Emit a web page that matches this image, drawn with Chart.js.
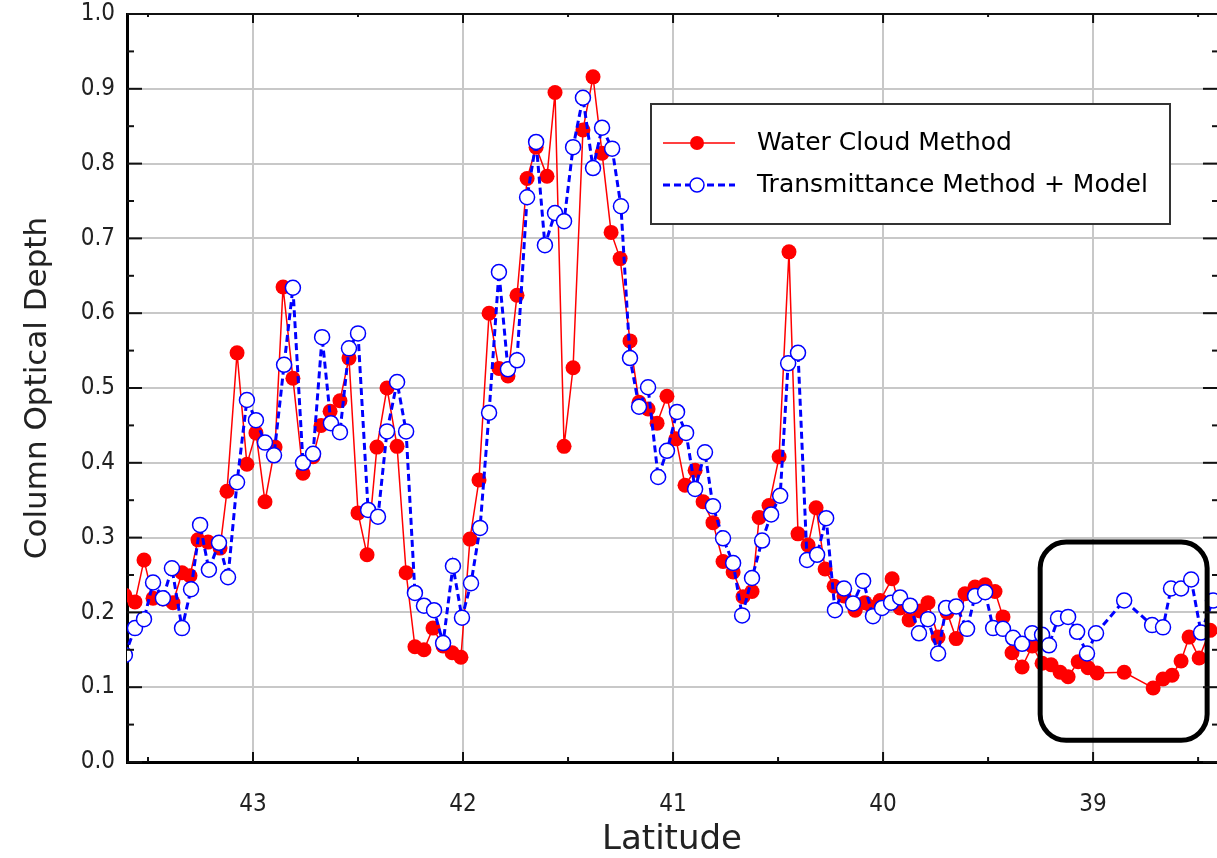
<!DOCTYPE html>
<html><head><meta charset="utf-8">
<script src="https://cdn.jsdelivr.net/npm/chart.js@4.4.0/dist/chart.umd.min.js"></script>
<style>html,body{margin:0;padding:0;background:#fff;}#wrap{width:1217px;height:858px;}</style>
</head><body><div id="wrap"><canvas id="c" width="1217" height="858"></canvas></div>
<script>
// ---------------- DATA ----------------
const seriesNames = ['Water Cloud Method', 'Transmittance Method + Model'];

const waterLat = [
 43.610,43.562,43.519,43.476,43.429,43.381,43.338,43.300,43.262,43.214,
 43.157,43.124,43.076,43.029,42.986,42.943,42.895,42.857,42.810,42.762,
 42.714,42.676,42.633,42.586,42.543,42.500,42.457,42.410,42.362,42.314,
 42.271,42.229,42.186,42.143,42.095,42.052,42.010,41.967,41.924,41.876,
 41.829,41.786,41.743,41.695,41.652,41.600,41.562,41.519,41.476,41.429,
 41.381,41.338,41.295,41.252,41.205,41.162,41.119,41.076,41.029,40.986,
 40.943,40.895,40.857,40.810,40.762,40.714,40.667,40.624,40.590,40.543,
 40.495,40.448,40.405,40.357,40.319,40.276,40.233,40.186,40.133,40.086,
 40.052,40.014,39.957,39.919,39.876,39.824,39.786,39.738,39.695,39.652,
 39.610,39.562,39.514,39.467,39.429,39.386,39.338,39.290,39.243,39.200,
 39.157,39.119,39.071,39.024,38.981,38.852,38.714,38.667,38.624,38.581,
 38.543,38.495,38.443];
const waterDepth = [
 0.223,0.214,0.270,0.219,0.218,0.213,0.253,0.249,0.297,0.294,
 0.286,0.362,0.547,0.398,0.440,0.348,0.421,0.635,0.513,0.386,
 0.408,0.450,0.469,0.483,0.540,0.333,0.277,0.421,0.500,0.422,
 0.253,0.154,0.150,0.179,0.155,0.146,0.140,0.298,0.377,0.600,
 0.526,0.516,0.624,0.780,0.822,0.783,0.895,0.422,0.527,0.845,
 0.916,0.814,0.708,0.673,0.563,0.481,0.472,0.453,0.489,0.432,
 0.370,0.390,0.348,0.320,0.268,0.254,0.221,0.228,0.327,0.343,
 0.408,0.682,0.305,0.290,0.340,0.258,0.235,0.222,0.203,0.213,
 0.207,0.216,0.245,0.206,0.190,0.202,0.213,0.167,0.200,0.165,
 0.225,0.234,0.237,0.228,0.194,0.146,0.127,0.155,0.132,0.130,
 0.120,0.114,0.134,0.126,0.119,0.120,0.099,0.111,0.116,0.135,
 0.167,0.139,0.176];

const transLat = [
 43.610,43.562,43.519,43.476,43.429,43.386,43.338,43.295,43.252,43.210,
 43.162,43.119,43.076,43.029,42.986,42.943,42.900,42.852,42.810,42.762,
 42.714,42.671,42.629,42.586,42.543,42.500,42.452,42.405,42.362,42.314,
 42.271,42.229,42.186,42.138,42.095,42.048,42.005,41.962,41.919,41.876,
 41.829,41.786,41.743,41.695,41.652,41.610,41.562,41.519,41.476,41.429,
 41.381,41.338,41.290,41.248,41.205,41.162,41.119,41.071,41.029,40.981,
 40.938,40.895,40.848,40.810,40.762,40.714,40.671,40.624,40.576,40.533,
 40.490,40.452,40.405,40.362,40.314,40.271,40.229,40.186,40.143,40.095,
 40.048,40.005,39.962,39.919,39.871,39.829,39.786,39.738,39.700,39.652,
 39.600,39.562,39.514,39.476,39.429,39.381,39.338,39.290,39.243,39.210,
 39.167,39.119,39.076,39.029,38.986,38.852,38.719,38.667,38.629,38.581,
 38.533,38.486,38.429];
const transDepth = [
 0.143,0.179,0.191,0.240,0.219,0.259,0.179,0.231,0.317,0.257,
 0.293,0.247,0.374,0.484,0.457,0.427,0.410,0.531,0.634,0.400,
 0.412,0.568,0.453,0.441,0.553,0.573,0.337,0.328,0.442,0.508,
 0.442,0.226,0.209,0.203,0.159,0.262,0.193,0.239,0.313,0.467,
 0.655,0.525,0.537,0.755,0.829,0.691,0.734,0.723,0.822,0.888,
 0.794,0.848,0.820,0.743,0.540,0.475,0.501,0.381,0.416,0.468,
 0.440,0.365,0.414,0.342,0.299,0.266,0.196,0.246,0.296,0.331,
 0.356,0.533,0.547,0.270,0.277,0.326,0.203,0.232,0.212,0.242,
 0.195,0.206,0.213,0.220,0.209,0.172,0.191,0.145,0.206,0.208,
 0.178,0.222,0.227,0.179,0.178,0.166,0.158,0.172,0.170,0.156,
 0.192,0.194,0.174,0.145,0.172,0.216,0.183,0.180,0.232,0.232,
 0.244,0.173,0.216];

const latTicks = [43, 42, 41, 40, 39];
const latMinorTicks = [43.5, 42.5, 41.5, 40.5, 39.5, 38.5];
const depthTicks = [0.0,0.1,0.2,0.3,0.4,0.5,0.6,0.7,0.8,0.9,1.0];
const depthMinorTicks = [0.05,0.15,0.25,0.35,0.45,0.55,0.65,0.75,0.85,0.95];
// highlighted region (rounded box) in data units
const highlightLat = [39.252, 38.457];
const highlightDepth = [0.029, 0.294];

// ---------------- CHART ----------------
const TICK_FONT = "'DejaVu Sans Condensed', 'DejaVu Sans', sans-serif";
const TEXT_FONT = "'DejaVu Sans', sans-serif";

const toPts = (xs, ys) => xs.map((x, i) => ({x: x, y: ys[i]}));

const decorPlugin = {
  id: 'decor',
  afterDatasetsDraw(chart) {
    const ctx = chart.ctx;
    const xs = chart.scales.x, ys = chart.scales.y;
    const {left, right, top, bottom} = chart.chartArea;
    ctx.save();
    // highlight rounded box
    const x1 = xs.getPixelForValue(highlightLat[0]), x2 = xs.getPixelForValue(highlightLat[1]);
    const y1 = ys.getPixelForValue(highlightDepth[1]), y2 = ys.getPixelForValue(highlightDepth[0]);
    ctx.beginPath();
    ctx.roundRect(x1, y1, x2 - x1, y2 - y1, 26);
    ctx.lineWidth = 5; ctx.strokeStyle = '#000'; ctx.stroke();

    // frame top + inward tick marks
    ctx.strokeStyle = '#111';
    ctx.lineWidth = 2;
    const seg = (a, b, c, d) => { ctx.beginPath(); ctx.moveTo(a, b); ctx.lineTo(c, d); ctx.stroke(); };
    seg(left, top, right, top);
    depthTicks.forEach(v => { const p = ys.getPixelForValue(v); seg(left, p, left + 15, p); seg(right, p, right - 14, p); });
    depthMinorTicks.forEach(v => { const p = ys.getPixelForValue(v); seg(left, p, left + 7, p); seg(right, p, right - 5, p); });
    latTicks.forEach(v => { const p = xs.getPixelForValue(v); seg(p, bottom, p, bottom - 10); seg(p, top, p, top + 9); });
    latMinorTicks.forEach(v => { const p = xs.getPixelForValue(v); if (p > left && p < right) { seg(p, bottom, p, bottom - 5); seg(p, top, p, top + 3); } });

    // legend box
    const lx = 651, ly = 104, lw = 519, lh = 120;
    ctx.fillStyle = '#fff';
    ctx.fillRect(lx, ly, lw, lh);
    ctx.lineWidth = 2; ctx.strokeStyle = '#333';
    ctx.strokeRect(lx, ly, lw, lh);
    const rows = [ly + 39, ly + 81];
    chart.data.datasets.forEach((ds, i) => {
      const y = rows[i];
      ctx.save();
      ctx.strokeStyle = ds.borderColor;
      ctx.lineWidth = ds.borderWidth;
      ctx.setLineDash(ds.borderDash || []);
      seg(lx + 12, y, lx + 84, y);
      ctx.restore();
      ctx.beginPath();
      ctx.ellipse(lx + 46, y, 7, 7, 0, 0, Math.PI * 2);
      ctx.fillStyle = ds.pointBackgroundColor; ctx.fill();
      if (ds.pointBorderWidth) { ctx.lineWidth = ds.pointBorderWidth; ctx.strokeStyle = ds.pointBorderColor; ctx.stroke(); }
      ctx.fillStyle = '#000';
      ctx.font = '25px ' + TEXT_FONT;
      ctx.textBaseline = 'middle';
      ctx.textAlign = 'left';
      ctx.fillText(ds.label, lx + 106, y);
    });
    ctx.restore();
  }
};

new Chart(document.getElementById('c'), {
  type: 'line',
  data: {
    datasets: [
      {
        label: seriesNames[0],
        data: toPts(waterLat, waterDepth),
        borderColor: '#ff0000', borderWidth: 1.5,
        pointRadius: 7.5, pointBackgroundColor: '#ff0000', pointBorderColor: '#ff0000', pointBorderWidth: 0,
        order: 2
      },
      {
        label: seriesNames[1],
        data: toPts(transLat, transDepth),
        borderColor: '#0000ff', borderWidth: 3, borderDash: [7, 4],
        pointRadius: 7.5, pointBackgroundColor: '#ffffff', pointBorderColor: '#0000ff', pointBorderWidth: 1.5,
        order: 1
      }
    ]
  },
  options: {
    responsive: false, animation: false, devicePixelRatio: 1,
    layout: { autoPadding: false, padding: { top: 14, right: 0, left: 0, bottom: 0 } },
    plugins: { legend: { display: false }, tooltip: { enabled: false } },
    elements: { line: { tension: 0 } },
    scales: {
      x: {
        type: 'linear', reverse: true, min: 38.41, max: 43.6,
        afterBuildTicks: s => { s.ticks = latTicks.map(v => ({value: v})); },
        afterFit: s => { s.height = 96; s.paddingLeft = 0; s.paddingRight = 0; },
        grid: { color: '#c8c8c8', lineWidth: 2, drawTicks: false },
        border: { display: true, color: '#000', width: 3 },
        ticks: { font: { family: TICK_FONT, size: 24 }, color: '#222', padding: 28, maxRotation: 0,
                 callback: v => String(v) },
        title: { display: true, text: 'Latitude', font: { family: TEXT_FONT, size: 34 }, color: '#222',
                 padding: { top: 0, bottom: -3 } }
      },
      y: {
        type: 'linear', min: 0, max: 1,
        afterBuildTicks: s => { s.ticks = depthTicks.map(v => ({value: v})); },
        afterFit: s => { s.width = 127; s.paddingTop = 0; s.paddingBottom = 0; },
        grid: { color: '#c8c8c8', lineWidth: 2, drawTicks: false },
        border: { display: true, color: '#000', width: 3 },
        ticks: { font: { family: TICK_FONT, size: 24 }, color: '#222', padding: 12,
                 callback: v => Number(v).toFixed(1) },
        title: { display: true, text: 'Column Optical Depth', font: { family: TEXT_FONT, size: 31 }, color: '#222',
                 padding: { top: 19, bottom: 0 } }
      }
    }
  },
  plugins: [decorPlugin]
});
</script></body></html>
